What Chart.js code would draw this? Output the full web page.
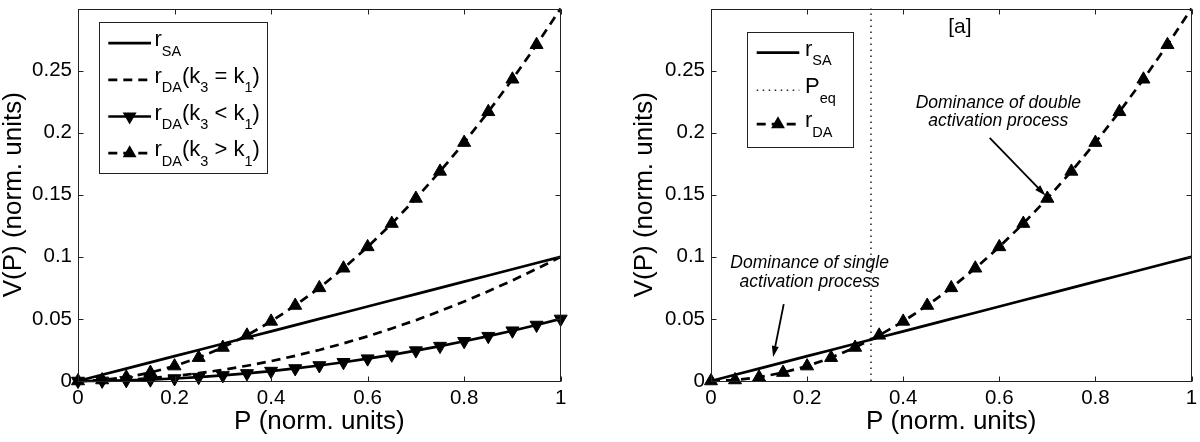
<!DOCTYPE html>
<html>
<head>
<meta charset="utf-8">
<script src="https://cdn.jsdelivr.net/npm/chart.js@4/dist/chart.umd.min.js"></script>
<style>
  body { margin: 0; background: #fff; }
  .painel { position: absolute; top: 0; width: 600px; height: 442px; }
</style>
</head>
<body>
<div class="painel" style="left:0"><canvas id="grafico1" width="600" height="442"></canvas></div>
<div class="painel" style="left:600px"><canvas id="grafico2" width="600" height="442"></canvas></div>
<script>
// valores
const pValues = [0, 0.05, 0.1, 0.15, 0.2, 0.25, 0.3, 0.35, 0.4, 0.45, 0.5, 0.55, 0.6, 0.65, 0.7, 0.75, 0.8, 0.85, 0.9, 0.95, 1];
const rSA = [0, 0.005, 0.01, 0.015, 0.02, 0.025, 0.03, 0.035, 0.04, 0.045, 0.05, 0.055, 0.06, 0.065, 0.07, 0.075, 0.08, 0.085, 0.09, 0.095, 0.1];
const rDAEqual = [0, 0.0003, 0.001, 0.0023, 0.004, 0.0063, 0.009, 0.0123, 0.016, 0.0203, 0.025, 0.0303, 0.036, 0.0423, 0.049, 0.0563, 0.064, 0.0723, 0.081, 0.0903, 0.1];
const rDALower = [0, 0.0001, 0.0005, 0.0011, 0.002, 0.0031, 0.0045, 0.0061, 0.008, 0.0101, 0.0125, 0.0151, 0.018, 0.0211, 0.0245, 0.0281, 0.032, 0.0361, 0.0405, 0.0451, 0.05];
const rDAHigher = [0, 0.0008, 0.003, 0.0068, 0.012, 0.0188, 0.027, 0.0368, 0.048, 0.0608, 0.075, 0.0908, 0.108, 0.1268, 0.147, 0.1688, 0.192, 0.2168, 0.243, 0.2708, 0.3];
const pEq = 0.333;
const pEqRange = [0, 0.3];
const xTicks = [0, 0.2, 0.4, 0.6, 0.8, 1];
const yTicks = [0, 0.05, 0.1, 0.15, 0.2, 0.25];

const FONTE = "'Liberation Sans', Arial, Helvetica, sans-serif";
const RAIO = 7.5;
const TRACO = [9, 6];

Chart.defaults.font.family = FONTE;
Chart.defaults.color = "#000";

const pontos = (ys) => pValues.map((p, i) => ({ x: p, y: ys[i] }));

function serie(label, ys, estilo) {
  return Object.assign({
    label,
    data: pontos(ys),
    borderColor: "#000",
    backgroundColor: "#000",
    borderWidth: 2.7,
    pointRadius: 0,
    pointBorderWidth: 1,
    clip: false,
  }, estilo);
}

function triangulo(ctx, x, y, r, rot) {
  const a0 = rot * Math.PI / 180;
  ctx.beginPath();
  for (let k = 0; k < 3; k++) {
    const a = a0 + k * 2 * Math.PI / 3;
    ctx.lineTo(x + Math.sin(a) * r, y - Math.cos(a) * r);
  }
  ctx.closePath();
  ctx.fillStyle = "#000";
  ctx.fill();
}

function textoComIndices(ctx, partes, x, base) {
  ctx.textBaseline = "alphabetic";
  ctx.textAlign = "left";
  ctx.fillStyle = "#000";
  partes.forEach(p => {
    ctx.font = (p.sub ? "14.5px " : "22px ") + FONTE;
    ctx.fillText(p.t, x, p.sub ? base + 9.5 : base);
    x += ctx.measureText(p.t).width;
  });
}

// moldura estilo matlab: caixa completa e ticks para dentro
const moldura = {
  id: "moldura",
  afterDatasetsDraw(chart) {
    const { ctx, chartArea: a, scales: { x, y } } = chart;
    const L = Math.round(a.left) + 0.5, R = Math.round(a.right) - 0.5;
    const T = Math.round(a.top) + 0.5, B = Math.round(a.bottom) + 0.5;
    ctx.save();
    ctx.strokeStyle = "#222";
    ctx.lineWidth = 1;
    ctx.strokeRect(L, T, R - L, B - T);
    ctx.beginPath();
    xTicks.forEach(v => {
      const px = Math.round(x.getPixelForValue(v)) + 0.5;
      ctx.moveTo(px, B); ctx.lineTo(px, B - 5);
      ctx.moveTo(px, T); ctx.lineTo(px, T + 5);
    });
    yTicks.forEach(v => {
      const py = Math.round(y.getPixelForValue(v)) + 0.5;
      ctx.moveTo(L, py); ctx.lineTo(L + 5, py);
      ctx.moveTo(R, py); ctx.lineTo(R - 5, py);
    });
    ctx.stroke();
    ctx.restore();
  }
};

function legenda(spec) {
  return {
    id: "legenda",
    afterDraw(chart) {
      const { ctx, chartArea: a } = chart;
      const x0 = a.left + spec.x, y0 = a.top + spec.y;
      ctx.save();
      ctx.fillStyle = "#fff";
      ctx.fillRect(x0, y0, spec.w, spec.h);
      ctx.strokeStyle = "#222";
      ctx.lineWidth = 1;
      ctx.strokeRect(Math.round(x0) + 0.5, Math.round(y0) + 0.5, spec.w, spec.h);
      spec.itens.forEach((it, i) => {
        const ds = chart.data.datasets[it.ds];
        const y = a.top + spec.linhas[i];
        const x1 = a.left + spec.amostra[0], x2 = a.left + spec.amostra[1];
        ctx.save();
        ctx.strokeStyle = ds.borderColor;
        ctx.lineWidth = ds.borderWidth;
        ctx.setLineDash(ds.borderDash || []);
        ctx.beginPath();
        ctx.moveTo(x1, y); ctx.lineTo(x2, y);
        ctx.stroke();
        ctx.restore();
        if (ds.pointStyle === "triangle") triangulo(ctx, (x1 + x2) / 2, y, RAIO + 0.5, ds.rotation || 0);
        textoComIndices(ctx, it.partes, a.left + spec.texto, y + 3);
      });
      ctx.restore();
    }
  };
}

function anotacoes(textos, setas) {
  return {
    id: "anotacoes",
    afterDraw(chart) {
      const { ctx, scales: { x, y } } = chart;
      ctx.save();
      ctx.fillStyle = "#000";
      ctx.textAlign = "center";
      ctx.textBaseline = "middle";
      textos.forEach(t => {
        ctx.font = t.fonte;
        ctx.fillText(t.t, x.getPixelForValue(t.x), y.getPixelForValue(t.y));
      });
      setas.forEach(s => {
        const xa = x.getPixelForValue(s.de[0]), ya = y.getPixelForValue(s.de[1]);
        const xb = x.getPixelForValue(s.para[0]), yb = y.getPixelForValue(s.para[1]);
        const ang = Math.atan2(yb - ya, xb - xa);
        ctx.strokeStyle = "#000";
        ctx.lineWidth = 1.8;
        ctx.beginPath();
        ctx.moveTo(xa, ya);
        ctx.lineTo(xb - Math.cos(ang) * 8, yb - Math.sin(ang) * 8);
        ctx.stroke();
        ctx.beginPath();
        ctx.moveTo(xb, yb);
        ctx.lineTo(xb - Math.cos(ang) * 11 - Math.sin(ang) * 3.5, yb - Math.sin(ang) * 11 + Math.cos(ang) * 3.5);
        ctx.lineTo(xb - Math.cos(ang) * 11 + Math.sin(ang) * 3.5, yb - Math.sin(ang) * 11 - Math.cos(ang) * 3.5);
        ctx.closePath();
        ctx.fill();
      });
      ctx.restore();
    }
  };
}

function escalas(larguraY, padTituloY) {
  return {
    x: {
      type: "linear", min: 0, max: 1,
      grid: { display: false, drawTicks: false }, border: { display: false },
      afterBuildTicks: s => { s.ticks = xTicks.map(v => ({ value: v })); },
      afterFit: s => { s.height = 61; s.paddingLeft = 0; s.paddingRight = 0; },
      ticks: { padding: 5, maxRotation: 0, autoSkip: false, font: { size: 20.5 }, callback: v => String(v) },
      title: { display: true, text: "P (norm. units)", font: { size: 26, lineHeight: 1 }, padding: { top: 0, bottom: 7.5 } }
    },
    y: {
      type: "linear", min: 0, max: 0.3,
      grid: { display: false, drawTicks: false }, border: { display: false },
      afterBuildTicks: s => { s.ticks = yTicks.map(v => ({ value: v })); },
      afterFit: s => { s.width = larguraY; s.paddingTop = 0; s.paddingBottom = 0; },
      ticks: { padding: 6, autoSkip: false, font: { size: 20.5 }, callback: v => String(v) },
      title: { display: true, text: "V(P) (norm. units)", font: { size: 26, lineHeight: 1 }, padding: { top: padTituloY, bottom: 0 } }
    }
  };
}

const opcoesBase = (padding, larguraY, padTituloY) => ({
  responsive: false,
  animation: false,
  layout: { padding },
  plugins: { legend: { display: false }, tooltip: { enabled: false } },
  scales: escalas(larguraY, padTituloY)
});

const marcadorCima = ctx => (ctx.dataIndex === pValues.length - 1 ? 0 : RAIO);

// grafico da esquerda
new Chart(document.getElementById("grafico1").getContext("2d"), {
  type: "line",
  data: {
    datasets: [
      serie("rSA", rSA, { order: 4 }),
      serie("rDA(k3 = k1)", rDAEqual, { borderDash: TRACO, order: 3 }),
      serie("rDA(k3 < k1)", rDALower, { pointStyle: "triangle", rotation: 180, pointRadius: RAIO, order: 2 }),
      serie("rDA(k3 > k1)", rDAHigher, { borderDash: TRACO, pointStyle: "triangle", pointRadius: marcadorCima, order: 1 })
    ]
  },
  options: opcoesBase({ left: 0, top: 4.3, right: 39.3, bottom: 0 }, 78, 0.5),
  plugins: [moldura, legenda({
    x: 20.5, y: 13, w: 168, h: 151,
    amostra: [30.3, 73], texto: 76.5,
    linhas: [34.7, 71.4, 108, 144.7],
    itens: [
      { ds: 0, partes: [{ t: "r" }, { t: "SA", sub: true }] },
      { ds: 1, partes: [{ t: "r" }, { t: "DA", sub: true }, { t: "(k" }, { t: "3", sub: true }, { t: " = k" }, { t: "1", sub: true }, { t: ")" }] },
      { ds: 2, partes: [{ t: "r" }, { t: "DA", sub: true }, { t: "(k" }, { t: "3", sub: true }, { t: " < k" }, { t: "1", sub: true }, { t: ")" }] },
      { ds: 3, partes: [{ t: "r" }, { t: "DA", sub: true }, { t: "(k" }, { t: "3", sub: true }, { t: " > k" }, { t: "1", sub: true }, { t: ")" }] }
    ]
  })]
});

// grafico da direita
new Chart(document.getElementById("grafico2").getContext("2d"), {
  type: "line",
  data: {
    datasets: [
      serie("rSA", rSA, { order: 3 }),
      Object.assign(serie("Peq", [], { order: 2 }), {
        data: pEqRange.map(v => ({ x: pEq, y: v })),
        borderColor: "#222", borderWidth: 1.5, borderDash: [1.5, 4.5]
      }),
      serie("rDA", rDAHigher, { borderDash: TRACO, pointStyle: "triangle", pointRadius: marcadorCima, order: 1 })
    ]
  },
  options: opcoesBase({ left: 0, top: 4.3, right: 6.7, bottom: 0 }, 111, 32),
  plugins: [moldura, legenda({
    x: 36, y: 23.2, w: 106, h: 115,
    amostra: [45.7, 88.3], texto: 94,
    linhas: [44.2, 81.7, 115.7],
    itens: [
      { ds: 0, partes: [{ t: "r" }, { t: "SA", sub: true }] },
      { ds: 1, partes: [{ t: "P" }, { t: "eq", sub: true }] },
      { ds: 2, partes: [{ t: "r" }, { t: "DA", sub: true }] }
    ]
  }), anotacoes([
    { t: "[a]", x: 0.518, y: 0.2849, fonte: "21px " + FONTE },
    { t: "Dominance of double", x: 0.598, y: 0.2238, fonte: "italic 17.5px " + FONTE },
    { t: "activation process", x: 0.598, y: 0.2095, fonte: "italic 17.5px " + FONTE },
    { t: "Dominance of single", x: 0.2053, y: 0.0946, fonte: "italic 17.5px " + FONTE },
    { t: "activation process", x: 0.2053, y: 0.0799, fonte: "italic 17.5px " + FONTE }
  ], [
    { de: [0.580, 0.1959], para: [0.696, 0.1494] },
    { de: [0.1514, 0.0619], para: [0.1293, 0.0193] }
  ])]
});
</script>
</body>
</html>
